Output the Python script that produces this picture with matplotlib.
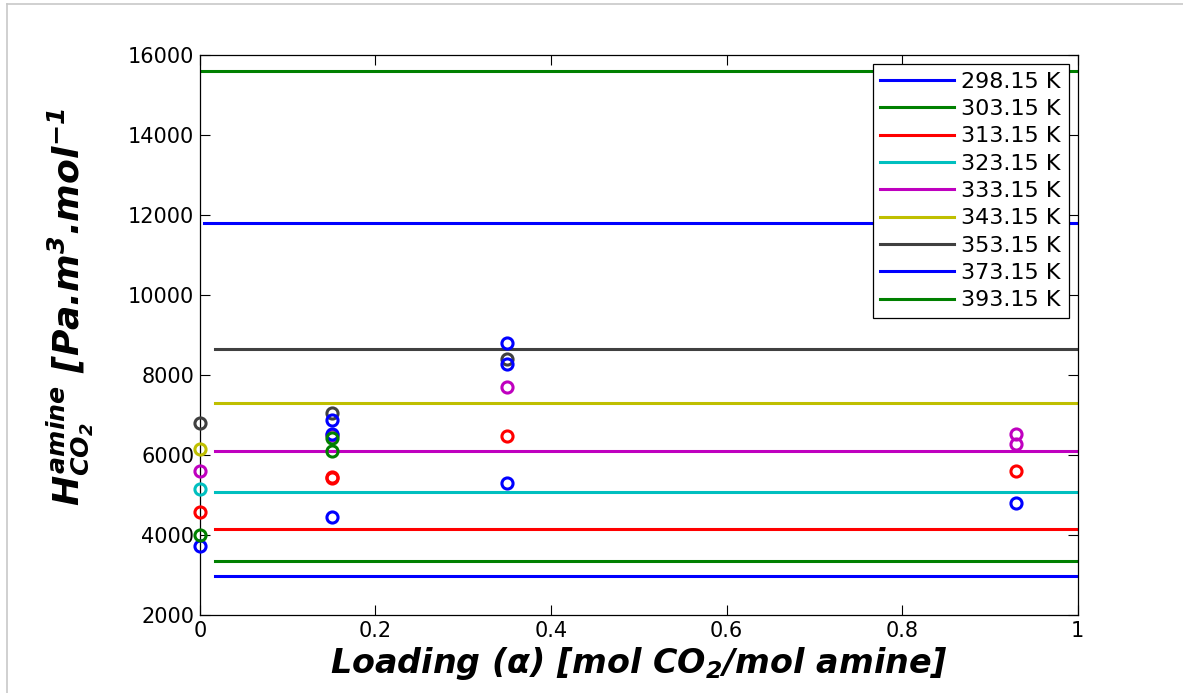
import matplotlib
matplotlib.use('Agg')
import matplotlib.pyplot as plt
from matplotlib.lines import Line2D

plt.rcParams['font.family'] = ['DejaVu Sans']
plt.rcParams['mathtext.fontset'] = 'custom'
plt.rcParams['mathtext.rm'] = 'DejaVu Sans:italic:bold'
plt.rcParams['mathtext.it'] = 'DejaVu Sans:italic:bold'
plt.rcParams['mathtext.bf'] = 'DejaVu Sans:italic:bold'

#----------------------------------------------------#
# temperaturi si valorile constante (linii)
temps = ['298.15 K', '303.15 K', '313.15 K', '323.15 K', '333.15 K',
         '343.15 K', '353.15 K', '373.15 K', '393.15 K']
line_vals = [2975, 3350, 4150, 5075, 6100, 7300, 8650, 11800, 15600]
line_colors = ['#0000ff', '#008000', '#ff0000', '#00bfbf', '#bf00bf',
               '#bfbf00', '#404040', '#0000ff', '#008000']
line_start = [0.017, 0.017, 0.017, 0.017, 0.017, 0.017, 0.017, 0.005, 0.0]
#----------------------------------------------------#
# puncte experimentale
gray_x = [0, 0.15, 0.35]
gray_y = [6790, 7040, 8400]
yellow_x = [0]
yellow_y = [6140]
magenta_x = [0, 0.15, 0.35, 0.93, 0.93]
magenta_y = [5610, 6500, 7700, 6265, 6520]
cyan_x = [0]
cyan_y = [5160]
red_x = [0, 0.15, 0.15, 0.35, 0.93]
red_y = [4580, 5420, 5460, 6470, 5610]
blue_x = [0, 0.15, 0.15, 0.15, 0.35, 0.35, 0.35, 0.93]
blue_y = [3730, 4460, 6520, 6870, 5310, 8270, 8800, 4810]
green_x = [0, 0.15, 0.15]
green_y = [4010, 6090, 6415]
#----------------------------------------------------#
fig = plt.figure(figsize=(11.83, 6.93), dpi=100)
ax = fig.add_axes([0.169, 0.1126, 0.742, 0.808])

handles = []
for i in range(len(temps)):
    h, = ax.plot([line_start[i], 1], [line_vals[i], line_vals[i]],
                 color=line_colors[i], lw=2.2, zorder=2)
    handles.append(h)

markers = [(gray_x, gray_y, '#404040'), (yellow_x, yellow_y, '#bfbf00'),
           (magenta_x, magenta_y, '#bf00bf'), (cyan_x, cyan_y, '#00bfbf'),
           (red_x, red_y, '#ff0000'), (blue_x, blue_y, '#0000ff'),
           (green_x, green_y, '#008000')]
for mx, my, c in markers:
    ax.plot(mx, my, 'o', mfc='none', mec=c, ms=8, mew=2.2, zorder=3,
            clip_on=False)

ax.set_xlim(0, 1)
ax.set_ylim(2000, 16000)
ax.set_xticks([0, 0.2, 0.4, 0.6, 0.8, 1])
ax.set_xticklabels(['0', '0.2', '0.4', '0.6', '0.8', '1'])
ax.set_yticks(range(2000, 16001, 2000))
ax.tick_params(direction='in', top=True, right=True, labelsize=15,
               length=7, width=0.8, pad=4)
for s in ax.spines.values():
    s.set_linewidth(0.9)

ax.set_xlabel(r'Loading ($\alpha$) [mol CO$_2$/mol amine]', fontsize=24,
              fontweight='bold', style='italic', labelpad=3)
ax.set_ylabel(r'$H^{amine}_{CO_2}$ [Pa.m$^{3}$.mol$^{-1}$', fontsize=26,
              fontweight='bold', style='italic')
ax.yaxis.set_label_coords(-0.118, 0.55)

leg = ax.legend(handles, temps, loc='upper right', fontsize=16,
                labelspacing=0.33, handlelength=3.3, handletextpad=0.35,
                borderaxespad=0.4, fancybox=False, framealpha=1,
                edgecolor='black', borderpad=0.35)
leg.get_frame().set_linewidth(0.9)

# rama figurii
fig.add_artist(Line2D([7 / 1183, 1], [1 - 4 / 693, 1 - 4 / 693],
                      color='#c8c8c8', lw=1.2))
fig.add_artist(Line2D([7 / 1183, 7 / 1183], [0, 1 - 4 / 693],
                      color='#c8c8c8', lw=1.2))

fig.savefig('out.png', dpi=100)
